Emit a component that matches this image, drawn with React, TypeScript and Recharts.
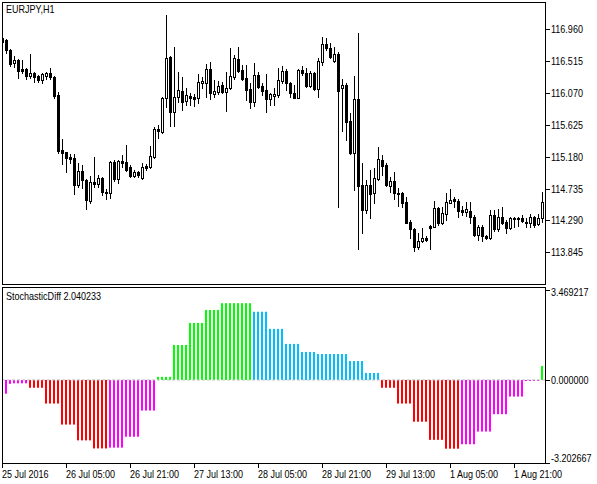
import React from "react";
import { ComposedChart, Bar, XAxis, YAxis, ReferenceLine } from "recharts";

const SYMBOL = "EURJPY,H1";
const INDICATOR = "StochasticDiff 2.040233";

// EURJPY H1 candles (136 bars)
const opens = [
  116.835, 116.807, 116.668, 116.482, 116.528, 116.403, 116.398, 116.309,
  116.342, 116.305, 116.249, 116.305, 116.342, 116.287, 116.04, 115.273,
  115.245, 115.179, 115.161, 114.784, 114.98, 114.85, 114.565, 114.826,
  114.798, 114.882, 114.691, 114.677, 115.105, 114.872, 115.119, 115.101,
  115.04, 114.914, 114.961, 114.878, 115.049, 115.04, 115.17, 115.565,
  115.528, 115.994, 116.566, 115.807, 116.016, 116.096, 115.956, 116.03,
  116.016, 116.002, 116.211, 116.211, 116.398, 116.058, 116.077, 116.179,
  116.077, 116.133, 116.295, 116.538, 116.389, 116.273, 116.119, 115.946,
  116.319, 116.165, 116.11, 115.98, 116.03, 116.04, 116.239, 116.375,
  116.203, 116.063, 116.002, 116.389, 116.351, 116.17, 116.351, 116.119,
  116.504, 116.751, 116.691, 116.518, 116.612, 116.133, 116.179, 115.677,
  115.235, 115.984, 114.784, 114.436, 114.784, 114.669, 114.868, 115.133,
  115.063, 114.775, 114.84, 114.677, 114.669, 114.551, 114.272, 114.166,
  113.915, 114.007, 114.041, 114.212, 114.203, 114.459, 114.258, 114.375,
  114.538, 114.585, 114.561, 114.436, 114.403, 114.426, 114.342, 114.087,
  114.203, 114.077, 114.041, 114.366, 114.166, 114.334, 114.272, 114.189,
  114.31, 114.328, 114.32, 114.272, 114.25, 114.342, 114.24, 114.32,
];
const highs = [
  116.849, 116.821, 116.677, 116.584, 116.546, 116.528, 116.412, 116.612,
  116.365, 116.323, 116.351, 116.365, 116.416, 116.305, 116.077, 115.426,
  115.245, 115.217, 115.217, 115.095, 115.063, 114.864, 114.914, 115.179,
  114.92, 114.896, 114.724, 115.119, 115.133, 115.133, 115.203, 115.342,
  115.063, 114.994, 114.984, 115.087, 115.073, 115.328, 115.597, 115.621,
  116.016, 117.156, 116.58, 116.714, 116.365, 116.295, 116.142, 116.072,
  116.05, 116.333, 116.295, 116.468, 116.504, 116.249, 116.235, 116.217,
  116.365, 116.691, 116.598, 116.714, 116.458, 116.458, 116.211, 116.49,
  116.365, 116.211, 116.333, 116.072, 116.133, 116.412, 116.444, 116.398,
  116.225, 116.179, 116.398, 116.444, 116.412, 116.375, 116.365, 116.552,
  116.845, 116.831, 116.761, 116.714, 116.644, 116.263, 116.203, 115.784,
  116.305, 116.9, 115.087, 114.854, 114.994, 115.017, 115.318, 115.196,
  115.087, 114.9, 114.97, 114.738, 114.691, 114.621, 114.296, 114.18,
  114.11, 114.18, 114.073, 114.226, 114.561, 114.482, 114.482, 114.668,
  114.729, 114.621, 114.585, 114.491, 114.551, 114.551, 114.366, 114.226,
  114.226, 114.087, 114.436, 114.436, 114.445, 114.482, 114.296, 114.342,
  114.342, 114.342, 114.366, 114.32, 114.375, 114.352, 114.38, 114.691,
];
const lows = [
  116.751, 116.626, 116.444, 116.43, 116.281, 116.351, 116.259, 116.281,
  116.217, 116.217, 116.203, 116.263, 116.263, 116.002, 115.226, 115.073,
  114.97, 115.087, 114.655, 114.761, 114.747, 114.445, 114.529, 114.761,
  114.761, 114.645, 114.585, 114.599, 114.84, 114.808, 115.04, 114.98,
  114.9, 114.9, 114.892, 114.87, 114.994, 115.026, 115.157, 115.436,
  115.505, 115.877, 115.612, 115.612, 115.946, 115.831, 115.9, 115.9,
  115.886, 115.924, 116.133, 116.016, 115.984, 116.016, 116.049, 116.063,
  115.821, 116.119, 116.263, 116.365, 116.249, 115.97, 115.854, 115.886,
  116.133, 116.04, 115.807, 115.9, 115.9, 116.016, 116.211, 116.11,
  116.016, 115.994, 115.994, 116.319, 116.156, 116.147, 116.11, 116.016,
  116.458, 116.668, 116.552, 116.504, 114.473, 115.542, 115.412, 115.217,
  114.715, 113.887, 114.11, 114.389, 114.32, 114.529, 114.854, 114.924,
  114.77, 114.691, 114.589, 114.491, 114.482, 114.25, 114.041, 113.868,
  113.887, 113.993, 114.003, 113.891, 114.194, 114.226, 114.24, 114.296,
  114.529, 114.482, 114.342, 114.366, 114.352, 114.258, 114.073, 114.017,
  114.007, 114.027, 114.027, 114.147, 114.147, 114.24, 114.11, 114.175,
  114.203, 114.212, 114.272, 114.203, 114.203, 114.203, 114.226, 114.272,
];
const closes = [
  116.779, 116.668, 116.472, 116.528, 116.379, 116.379, 116.309, 116.342,
  116.295, 116.249, 116.329, 116.351, 116.287, 116.026, 115.263, 115.235,
  115.165, 115.143, 114.784, 114.98, 114.85, 114.575, 114.822, 114.798,
  114.882, 114.682, 114.669, 115.105, 114.872, 115.119, 115.095, 114.994,
  114.914, 114.97, 114.924, 115.031, 115.026, 115.189, 115.565, 115.538,
  115.994, 116.552, 115.807, 116.016, 116.11, 115.946, 116.04, 115.994,
  115.988, 116.225, 116.235, 116.398, 116.063, 116.096, 116.17, 116.077,
  116.142, 116.305, 116.552, 116.379, 116.263, 116.11, 115.946, 116.319,
  116.156, 116.1, 115.98, 116.05, 116.05, 116.249, 116.375, 116.203,
  116.063, 116.002, 116.389, 116.342, 116.17, 116.351, 116.119, 116.514,
  116.751, 116.691, 116.574, 116.612, 116.1, 116.179, 115.667, 115.235,
  115.984, 114.775, 114.436, 114.784, 114.659, 114.878, 115.143, 115.054,
  114.784, 114.84, 114.669, 114.659, 114.538, 114.258, 114.166, 113.915,
  114.007, 114.041, 114.017, 114.191, 114.459, 114.258, 114.389, 114.551,
  114.575, 114.561, 114.426, 114.403, 114.445, 114.334, 114.087, 114.203,
  114.077, 114.041, 114.366, 114.166, 114.342, 114.258, 114.189, 114.328,
  114.328, 114.31, 114.286, 114.258, 114.342, 114.226, 114.32, 114.551,
];

// StochasticDiff histogram (H4 steps on the H1 chart)
const histogram = [
  -0.53, -0.53, -0.15, -0.13, -0.13, -0.13, -0.13, -0.3,
  -0.3, -0.3, -0.3, -0.91, -0.91, -0.91, -0.91, -1.72,
  -1.72, -1.72, -1.72, -2.33, -2.33, -2.33, -2.33, -2.64,
  -2.64, -2.64, -2.64, -2.61, -2.61, -2.61, -2.61, -2.19,
  -2.19, -2.19, -2.19, -1.18, -1.18, -1.18, -1.18, 0.12,
  0.12, 0.12, 0.12, 1.35, 1.35, 1.35, 1.35, 2.2,
  2.2, 2.2, 2.2, 2.7, 2.7, 2.7, 2.7, 2.96,
  2.96, 2.96, 2.96, 2.96, 2.96, 2.96, 2.96, 2.63,
  2.63, 2.63, 2.63, 1.97, 1.97, 1.97, 1.97, 1.39,
  1.39, 1.39, 1.39, 1.08, 1.08, 1.08, 1.08, 1.0,
  1.0, 1.0, 1.0, 1.0, 1.0, 1.0, 1.0, 0.73,
  0.73, 0.73, 0.73, 0.27, 0.27, 0.27, 0.27, -0.3,
  -0.3, -0.3, -0.3, -0.91, -0.91, -0.91, -0.91, -1.61,
  -1.61, -1.61, -1.61, -2.31, -2.31, -2.31, -2.31, -2.65,
  -2.65, -2.65, -2.65, -2.48, -2.48, -2.48, -2.48, -1.99,
  -1.99, -1.99, -1.99, -1.32, -1.32, -1.32, -1.32, -0.64,
  -0.64, -0.64, -0.64, -0.04, -0.04, -0.04, -0.04, 0.54,
];

const timeTickIdx = [0, 16, 32, 48, 64, 80, 96, 112, 128];
const timeLabels = [
  "25 Jul 2016",
  "26 Jul 05:00",
  "26 Jul 21:00",
  "27 Jul 13:00",
  "28 Jul 05:00",
  "28 Jul 21:00",
  "29 Jul 13:00",
  "1 Aug 05:00",
  "1 Aug 21:00",
];
const priceTicks = [116.96, 116.515, 116.07, 115.625, 115.18, 114.735, 114.29, 113.845];
const priceRange = [113.4035, 117.3371];
const oscTicks = [-3.202667, 0, 3.469217];

// no narrow sans is installed, so squeeze Liberation Sans to a Tahoma-like width
const FONT = "'Liberation Sans', Arial, sans-serif";
const SQUEEZE = 0.82;
const W = 597;

const data = opens.map((o, i) => ({
  i,
  o,
  h: highs[i],
  l: lows[i],
  c: closes[i],
  v: histogram[i],
}));

// green/blue above zero (rising/falling), magenta/red below zero (rising/falling)
const barColors: string[] = [];
histogram.forEach((v, i) => {
  const prev = i > 0 ? histogram[i - 1] : undefined;
  let col: string;
  if (prev === undefined) col = v < 0 ? "#FF00FF" : "#00FF00";
  else if (v === prev) col = barColors[i - 1];
  else if (v >= 0) col = v > prev ? "#00FF00" : "#00BFFF";
  else col = v < prev ? "#FF0000" : "#FF00FF";
  barColors.push(col);
});

function Candle(props: any) {
  const { x, y, width, height, payload } = props;
  if (x == null || !payload) return null;
  const cx = Math.round(x + width / 2);
  const top = Math.min(y, y + height);
  const span = Math.abs(height);
  const range = payload.h - payload.l || 1;
  const toY = (v: number) => top + ((payload.h - v) / range) * span;
  const bTop = Math.round(toY(Math.max(payload.o, payload.c)));
  const bBot = Math.round(toY(Math.min(payload.o, payload.c)));
  const bull = payload.c > payload.o;
  return (
    <g shapeRendering="crispEdges">
      <line
        x1={cx + 0.5}
        x2={cx + 0.5}
        y1={Math.round(top)}
        y2={Math.round(top + span) + 1}
        stroke="#000"
      />
      {bull ? (
        <rect
          x={cx - 0.5}
          y={bTop + 0.5}
          width={2}
          height={Math.max(bBot - bTop, 1)}
          fill="#fff"
          stroke="#000"
        />
      ) : (
        <rect x={cx - 1} y={bTop} width={3} height={Math.max(bBot - bTop + 1, 1)} fill="#000" />
      )}
    </g>
  );
}

function OscBar(props: any) {
  const { x, y, width, height, payload } = props;
  if (x == null || !payload) return null;
  const cx = Math.round(x + width / 2);
  const top = Math.min(y, y + height);
  return <rect x={cx - 1} y={top} width={2} height={Math.abs(height)} fill={barColors[payload.i]} />;
}

function Label({ x, y, children }: { x: number; y: number; children: React.ReactNode }) {
  return (
    <text
      transform={`translate(${x},${y}) scale(${SQUEEZE},1)`}
      fontSize={11}
      fontFamily={FONT}
      fill="#000"
    >
      {children}
    </text>
  );
}

function PriceTick(props: any) {
  const { y, payload } = props;
  const ly = Math.round(y) + 0.5;
  return (
    <g>
      <line x1={546} x2={550} y1={ly} y2={ly} stroke="#000" />
      <Label x={551} y={y + 4}>{payload.value.toFixed(3)}</Label>
    </g>
  );
}

function OscTick(props: any) {
  const { y, payload } = props;
  const v = payload.value;
  const ly = Math.round(y) + 0.5;
  const dy = v > 0 ? 6 : v < 0 ? -1 : 4;
  return (
    <g>
      <line x1={546} x2={550} y1={ly} y2={ly} stroke="#000" />
      <Label x={551} y={y + dy}>{v.toFixed(6)}</Label>
    </g>
  );
}

function TimeTick(props: any) {
  const { x, payload } = props;
  const k = timeTickIdx.indexOf(payload.value);
  const tx = Math.round(x);
  return (
    <g>
      <line x1={tx + 0.5} x2={tx + 0.5} y1={177} y2={181} stroke="#000" />
      <Label x={tx} y={191}>{timeLabels[k]}</Label>
    </g>
  );
}

const frame: React.CSSProperties = {
  position: "absolute",
  left: 2,
  width: 542,
  border: "1px solid #000",
  pointerEvents: "none",
};

const caption: React.CSSProperties = {
  position: "absolute",
  left: 6,
  fontFamily: FONT,
  fontSize: 11,
  lineHeight: "11px",
  color: "#000",
  whiteSpace: "nowrap",
  transform: `scaleX(${SQUEEZE})`,
  transformOrigin: "0 0",
};

export default function App() {
  return (
    <div style={{ position: "absolute", left: 0, top: 0, width: W, height: 484, background: "#fff" }}>
      <div style={{ position: "absolute", left: 0, top: 0 }}>
        <ComposedChart width={W} height={287} data={data} margin={{ top: 2, right: 0, bottom: 3, left: 2 }}>
          <XAxis type="number" dataKey="i" domain={[0, 135.75]} allowDataOverflow hide />
          <YAxis
            orientation="right"
            type="number"
            width={52}
            domain={priceRange}
            allowDataOverflow
            ticks={priceTicks}
            interval={0}
            axisLine={false}
            tickLine={false}
            tick={PriceTick}
          />
          <Bar
            dataKey={(d: any) => [d.l, d.h]}
            barSize={4}
            shape={Candle}
            isAnimationActive={false}
          />
        </ComposedChart>
      </div>
      <div style={{ position: "absolute", left: 0, top: 287 }}>
        <ComposedChart width={W} height={197} data={data} margin={{ top: 3, right: 0, bottom: 0, left: 2 }}>
          <XAxis
            type="number"
            dataKey="i"
            domain={[0, 135.75]}
            allowDataOverflow
            ticks={timeTickIdx}
            interval={0}
            height={21}
            axisLine={false}
            tickLine={false}
            tick={TimeTick}
          />
          <YAxis
            orientation="right"
            type="number"
            width={52}
            domain={[oscTicks[0], oscTicks[2]]}
            allowDataOverflow
            ticks={oscTicks}
            interval={0}
            axisLine={false}
            tickLine={false}
            tick={OscTick}
          />
          <Bar dataKey="v" barSize={4} shape={OscBar} isAnimationActive={false} />
          <ReferenceLine y={0} stroke="#C0C0C0" strokeDasharray="3 2" />
        </ComposedChart>
      </div>
      <div style={{ ...frame, top: 2, height: 281 }} />
      <div style={{ ...frame, top: 287, height: 175 }} />
      <div style={{ ...caption, top: 4 }}>{SYMBOL}</div>
      <div style={{ ...caption, top: 291 }}>{INDICATOR}</div>
    </div>
  );
}
